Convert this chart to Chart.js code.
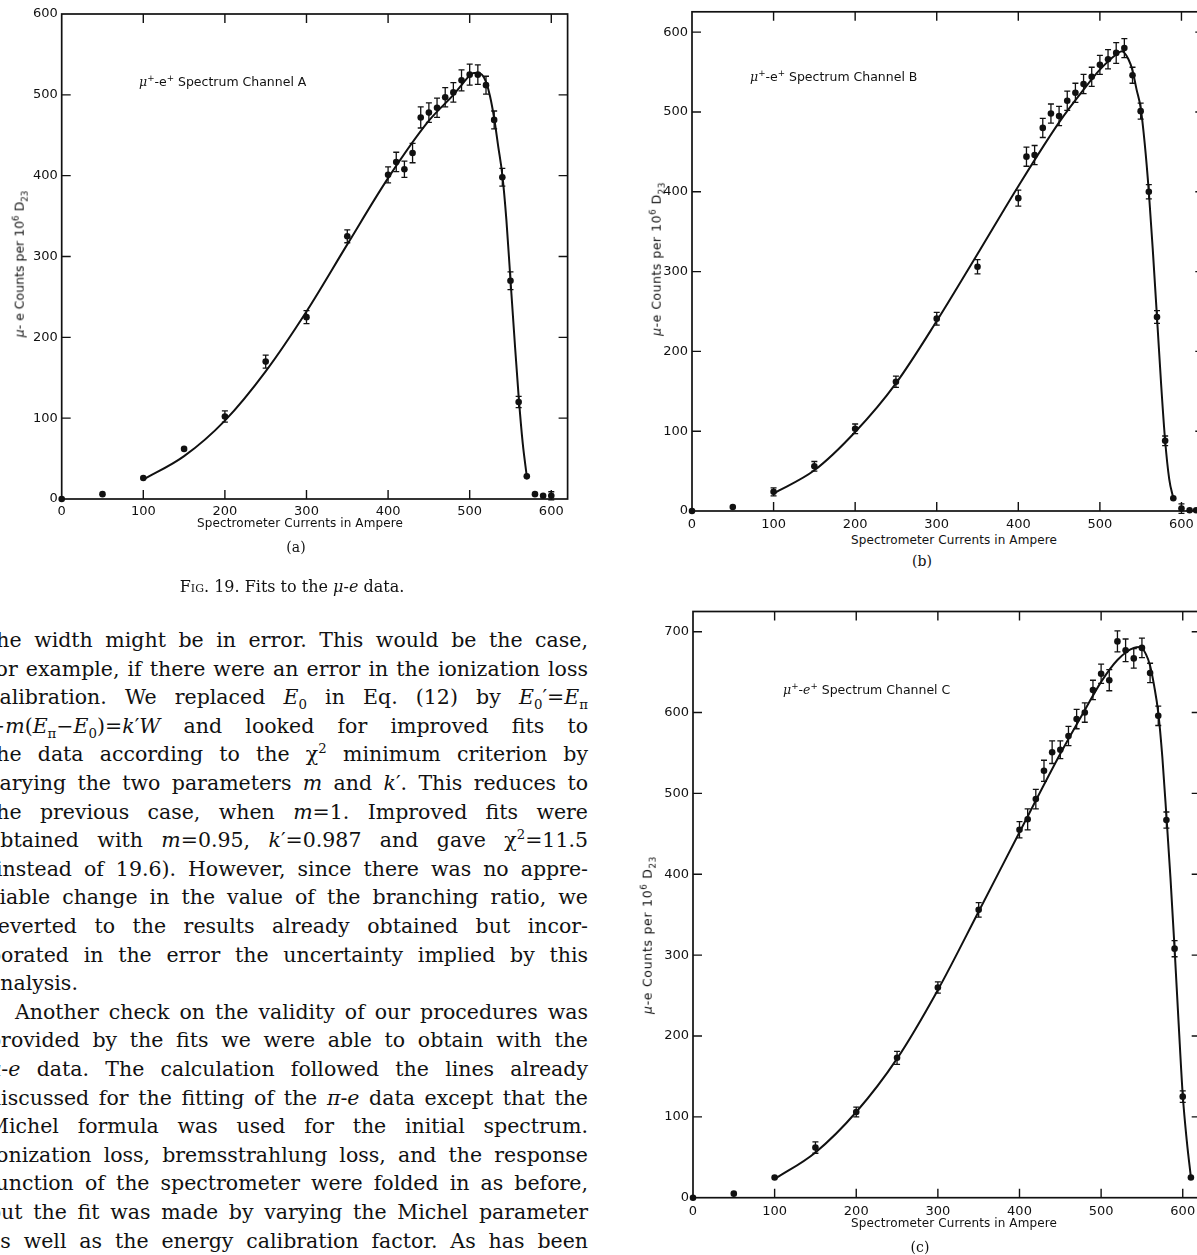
<!DOCTYPE html>
<html>
<head>
<meta charset="utf-8">
<script src="https://cdn.jsdelivr.net/npm/chart.js@4.4.1/dist/chart.umd.min.js"></script>
<style>
  body { margin: 0; width: 1197px; height: 1255px; overflow: hidden; background: #fff; position: relative; color: #111; font-family: "DejaVu Sans", sans-serif; }
  canvas { position: absolute; }
  .t { position: absolute; white-space: nowrap; }
  .chan { font-size: 12.5px; transform: translateY(-50%); }
  .chan i { font-family: "DejaVu Serif", serif; }
  .chan sup, .ytitle sup, .ytitle sub { font-size: 0.7em; }
  .xtitle { font-size: 12px; letter-spacing: 0.1px; transform: translate(-50%, -50%); }
  .ytitle { font-size: 12.5px; transform: translate(-50%, -50%) rotate(-90deg); }
  .panel { font-family: "DejaVu Serif", serif; font-size: 14px; transform: translate(-50%, -50%); }
  .caption { font-family: "DejaVu Serif", serif; font-size: 16px; transform: translate(-50%, -50%); }
  .sc { font-variant: small-caps; }
  .ln { position: absolute; left: -12px; width: 600px; font-family: "DejaVu Serif", serif; font-size: 20.5px; line-height: 28px; text-align: justify; text-align-last: justify; }
  .ln sub, .ln sup { font-size: 0.65em; line-height: 0; }
</style>
</head>
<body>
<canvas id="chartA" width="600" height="540" style="left:0;top:0"></canvas>
<canvas id="chartB" width="600" height="530" style="left:620px;top:0"></canvas>
<canvas id="chartC" width="600" height="625" style="left:620px;top:595px"></canvas>

<div class="t chan" style="left:139px;top:81px"><i>μ</i><sup>+</sup>-e<sup>+</sup> Spectrum Channel A</div>
<div class="t chan" style="left:750px;top:76px"><i>μ</i><sup>+</sup>-e<sup>+</sup> Spectrum Channel B</div>
<div class="t chan" style="left:783px;top:689px"><i>μ</i><sup>+</sup>-<i>e</i><sup>+</sup> Spectrum Channel C</div>

<div class="t ytitle" style="left:20px;top:264px"><i>μ</i>- e Counts per 10<sup>6</sup> D<sub>23</sub></div>
<div class="t ytitle" style="left:657px;top:259px;letter-spacing:0.5px"><i>μ</i>-e Counts per 10<sup>6</sup> D<sub>23</sub></div>
<div class="t ytitle" style="left:648px;top:935px;letter-spacing:0.7px"><i>μ</i>-e Counts per 10<sup>6</sup> D<sub>23</sub></div>

<div class="t xtitle" style="left:300px;top:523px">Spectrometer Currents in Ampere</div>
<div class="t xtitle" style="left:954px;top:540px">Spectrometer Currents in Ampere</div>
<div class="t xtitle" style="left:954px;top:1223px">Spectrometer Currents in Ampere</div>

<div class="t panel" style="left:296px;top:547px">(a)</div>
<div class="t panel" style="left:922px;top:561px">(b)</div>
<div class="t panel" style="left:920px;top:1247px">(c)</div>

<div class="t caption" style="left:292px;top:586px"><span class="sc">Fig</span>. 19. Fits to the <i>μ</i>-<i>e</i> data.</div>

<div id="text"></div>

<script>
// shared axis ticks
const xTicks = [0, 100, 200, 300, 400, 500, 600];
const yTicksAB = [0, 100, 200, 300, 400, 500, 600];
const yTicksC = [0, 100, 200, 300, 400, 500, 600, 700];

// Channel A
const currentsA = [0, 50, 100, 150, 200, 250, 300, 350, 400, 410, 420, 430, 440, 450, 460, 470, 480, 490, 500, 510, 520, 530, 540, 550, 560, 570, 580, 590, 600];
const countsA = [0, 6, 26, 62, 102, 170, 225, 325, 401, 417, 408, 428, 472, 478, 484, 497, 503, 518, 525, 525, 512, 469, 398, 270, 120, 28, 6, 4, 4];
const errorsA = [0, 0, 0, 0, 7, 8, 8, 8, 10, 12, 10, 12, 13, 12, 12, 12, 12, 13, 13, 12, 11, 11, 11, 11, 7, 0, 0, 0, 5];
const fitCurrentsA = [100, 150, 200, 250, 300, 350, 400, 450, 480, 490, 500, 505, 510, 515, 520, 525, 530, 535, 540, 545, 550, 555, 560, 565, 570];
const fitCountsA = [24, 53, 97, 158, 232, 315, 397, 468, 500, 512, 524, 527, 527, 525, 516, 498, 471, 436, 401, 345, 271, 197, 127, 69, 28];

// Channel B
const currentsB = [0, 50, 100, 150, 200, 250, 300, 350, 400, 410, 420, 430, 440, 450, 460, 470, 480, 490, 500, 510, 520, 530, 540, 550, 560, 570, 580, 590, 600, 610, 618];
const countsB = [0, 5, 24, 56, 103, 162, 241, 306, 392, 444, 446, 480, 498, 495, 514, 524, 535, 544, 559, 566, 574, 580, 546, 501, 400, 243, 88, 16, 3, 1, 1];
const errorsB = [0, 0, 5, 6, 6, 7, 8, 9, 10, 12, 12, 12, 12, 12, 12, 12, 12, 12, 12, 12, 13, 12, 10, 10, 9, 8, 6, 0, 6, 0, 0];
const fitCurrentsB = [100, 150, 200, 250, 300, 350, 400, 450, 480, 500, 520, 527, 535, 540, 545, 550, 555, 560, 565, 570, 575, 580, 585, 590];
const fitCountsB = [22, 51, 99, 160, 238, 322, 407, 487, 528, 553, 572, 576, 566, 552, 528, 505, 460, 400, 325, 243, 160, 88, 40, 16];

// Channel C
const currentsC = [0, 50, 100, 150, 200, 250, 300, 350, 400, 410, 420, 430, 440, 450, 460, 470, 480, 490, 500, 510, 520, 530, 540, 550, 560, 570, 580, 590, 600, 610];
const countsC = [0, 5, 25, 62, 106, 173, 260, 356, 455, 468, 493, 528, 551, 554, 571, 592, 600, 628, 648, 640, 688, 677, 667, 680, 649, 596, 467, 308, 125, 25];
const errorsC = [0, 0, 0, 7, 6, 8, 7, 9, 10, 13, 12, 13, 14, 11, 12, 12, 12, 12, 12, 13, 13, 14, 12, 12, 12, 12, 10, 10, 7, 0];
const fitCurrentsC = [100, 150, 200, 250, 300, 350, 400, 450, 480, 500, 520, 540, 548, 555, 560, 565, 570, 575, 580, 585, 590, 595, 600, 605, 610];
const fitCountsC = [23, 56, 106, 172, 257, 354, 452, 549, 603, 638, 665, 680, 681, 672, 658, 633, 600, 545, 472, 395, 308, 215, 127, 70, 25];

const ink = "#111";

// box round the plot with short ticks pointing inwards on all four sides
const frame = {
  id: "frame",
  afterDraw(chart) {
    const { ctx, chartArea: a, scales: { x, y } } = chart;
    ctx.save();
    ctx.strokeStyle = ink;
    ctx.lineWidth = 1.7;
    ctx.strokeRect(a.left, a.top, a.right - a.left, a.bottom - a.top);
    ctx.lineWidth = 1.4;
    const len = 9;
    ctx.beginPath();
    x.ticks.forEach((t) => {
      const px = x.getPixelForValue(t.value);
      if (px < a.left + 2 || px > a.right - 2) return;
      ctx.moveTo(px, a.top);
      ctx.lineTo(px, a.top + len);
      ctx.moveTo(px, a.bottom);
      ctx.lineTo(px, a.bottom - len);
    });
    y.ticks.forEach((t) => {
      const py = y.getPixelForValue(t.value);
      if (py < a.top + 2 || py > a.bottom - 2) return;
      ctx.moveTo(a.left, py);
      ctx.lineTo(a.left + len, py);
      ctx.moveTo(a.right, py);
      ctx.lineTo(a.right - len, py);
    });
    ctx.stroke();
    ctx.restore();
  },
};

// vertical error bars with small caps for the measured points
const errorBars = {
  id: "errorBars",
  afterDatasetsDraw(chart, args, opts) {
    const { ctx, scales: { x, y } } = chart;
    const pts = chart.data.datasets[0].data;
    ctx.save();
    ctx.strokeStyle = ink;
    ctx.lineWidth = 1.3;
    ctx.beginPath();
    pts.forEach((p, i) => {
      const e = opts.errors[i];
      if (!e) return;
      const px = x.getPixelForValue(p.x);
      const top = y.getPixelForValue(p.y + e);
      const bot = y.getPixelForValue(p.y - e);
      ctx.moveTo(px, top);
      ctx.lineTo(px, bot);
      ctx.moveTo(px - 3, top);
      ctx.lineTo(px + 3, top);
      ctx.moveTo(px - 3, bot);
      ctx.lineTo(px + 3, bot);
    });
    ctx.stroke();
    ctx.restore();
  },
};

function makeChart(id, cfg) {
  const tickFont = { family: "DejaVu Sans", size: 13 };
  return new Chart(document.getElementById(id), {
    type: "scatter",
    data: {
      datasets: [
        {
          data: cfg.xs.map((v, i) => ({ x: v, y: cfg.ys[i] })),
          pointRadius: 3.3,
          pointBackgroundColor: ink,
          pointBorderWidth: 0,
          showLine: false,
          clip: false,
        },
        {
          type: "line",
          data: cfg.fitXs.map((v, i) => ({ x: v, y: cfg.fitYs[i] })),
          borderColor: ink,
          borderWidth: 2,
          pointRadius: 0,
          cubicInterpolationMode: "monotone",
          fill: false,
        },
      ],
    },
    options: {
      responsive: false,
      animation: false,
      events: [],
      layout: { padding: cfg.padding },
      scales: {
        x: {
          type: "linear",
          min: 0,
          max: cfg.xMax,
          afterBuildTicks: (s) => { s.ticks = xTicks.map((v) => ({ value: v })); },
          afterFit: (s) => { s.height = cfg.xHeight; },
          grid: { display: false, drawTicks: false },
          border: { display: false },
          ticks: { color: ink, font: tickFont, padding: cfg.xPad, maxRotation: 0 },
        },
        y: {
          type: "linear",
          min: 0,
          max: cfg.yMax,
          afterBuildTicks: (s) => { s.ticks = cfg.yTicks.map((v) => ({ value: v })); },
          afterFit: (s) => { s.width = cfg.yWidth; },
          grid: { display: false, drawTicks: false },
          border: { display: false },
          ticks: { color: ink, font: tickFont, padding: 4 },
        },
      },
      plugins: {
        legend: { display: false },
        tooltip: { enabled: false },
        errorBars: { errors: cfg.errs },
      },
    },
    plugins: [errorBars, frame],
  });
}

makeChart("chartA", {
  xs: currentsA, ys: countsA, errs: errorsA, fitXs: fitCurrentsA, fitYs: fitCountsA,
  xMax: 620, yMax: 600, yTicks: yTicksAB,
  yWidth: 61.7, xHeight: 41, xPad: 5,
  padding: { top: 14, right: 32.4, bottom: 0, left: 0 },
});

makeChart("chartB", {
  xs: currentsB, ys: countsB, errs: errorsB, fitXs: fitCurrentsB, fitYs: fitCountsB,
  xMax: 628, yMax: 625.5, yTicks: yTicksAB,
  yWidth: 72, xHeight: 19, xPad: 6,
  padding: { top: 6.7, right: 15.7, bottom: 0, left: 0 },
});

makeChart("chartC", {
  xs: currentsC, ys: countsC, errs: errorsC, fitXs: fitCurrentsC, fitYs: fitCountsC,
  xMax: 622, yMax: 725, yTicks: yTicksC,
  yWidth: 73, xHeight: 22.3, xPad: 6,
  padding: { top: 16.5, right: 19.3, bottom: 0, left: 0 },
});

// body text of the page, one line per entry as set in the original
const lines = [
  "the width might be in error. This would be the case,",
  "for example, if there were an error in the ionization loss",
  "calibration. We replaced <i>E</i><sub>0</sub> in Eq. (12) by <i>E</i><sub>0</sub>′=<i>E</i><sub>π</sub>",
  "−<i>m</i>(<i>E</i><sub>π</sub>−<i>E</i><sub>0</sub>)=<i>k</i>′<i>W</i> and looked for improved fits to",
  "the data according to the χ<sup>2</sup> minimum criterion by",
  "varying the two parameters <i>m</i> and <i>k</i>′. This reduces to",
  "the previous case, when <i>m</i>=1. Improved fits were",
  "obtained with <i>m</i>=0.95, <i>k</i>′=0.987 and gave χ<sup>2</sup>=11.5",
  "(instead of 19.6). However, since there was no appre-",
  "ciable change in the value of the branching ratio, we",
  "reverted to the results already obtained but incor-",
  "porated in the error the uncertainty implied by this",
  "analysis.",
  "Another check on the validity of our procedures was",
  "provided by the fits we were able to obtain with the",
  "<i>μ</i>-<i>e</i> data. The calculation followed the lines already",
  "discussed for the fitting of the <i>π</i>-<i>e</i> data except that the",
  "Michel formula was used for the initial spectrum.",
  "Ionization loss, bremsstrahlung loss, and the response",
  "function of the spectrometer were folded in as before,",
  "but the fit was made by varying the Michel parameter",
  "as well as the energy calibration factor. As has been",
];

const textBox = document.getElementById("text");
lines.forEach((html, i) => {
  const d = document.createElement("div");
  d.className = "ln";
  d.style.top = (640 + i * 28.6 - 14) + "px";
  d.innerHTML = html;
  if (i === 12) d.style.textAlignLast = "left";
  if (i === 13) d.style.textIndent = "27px";
  textBox.appendChild(d);
});
</script>
</body>
</html>
